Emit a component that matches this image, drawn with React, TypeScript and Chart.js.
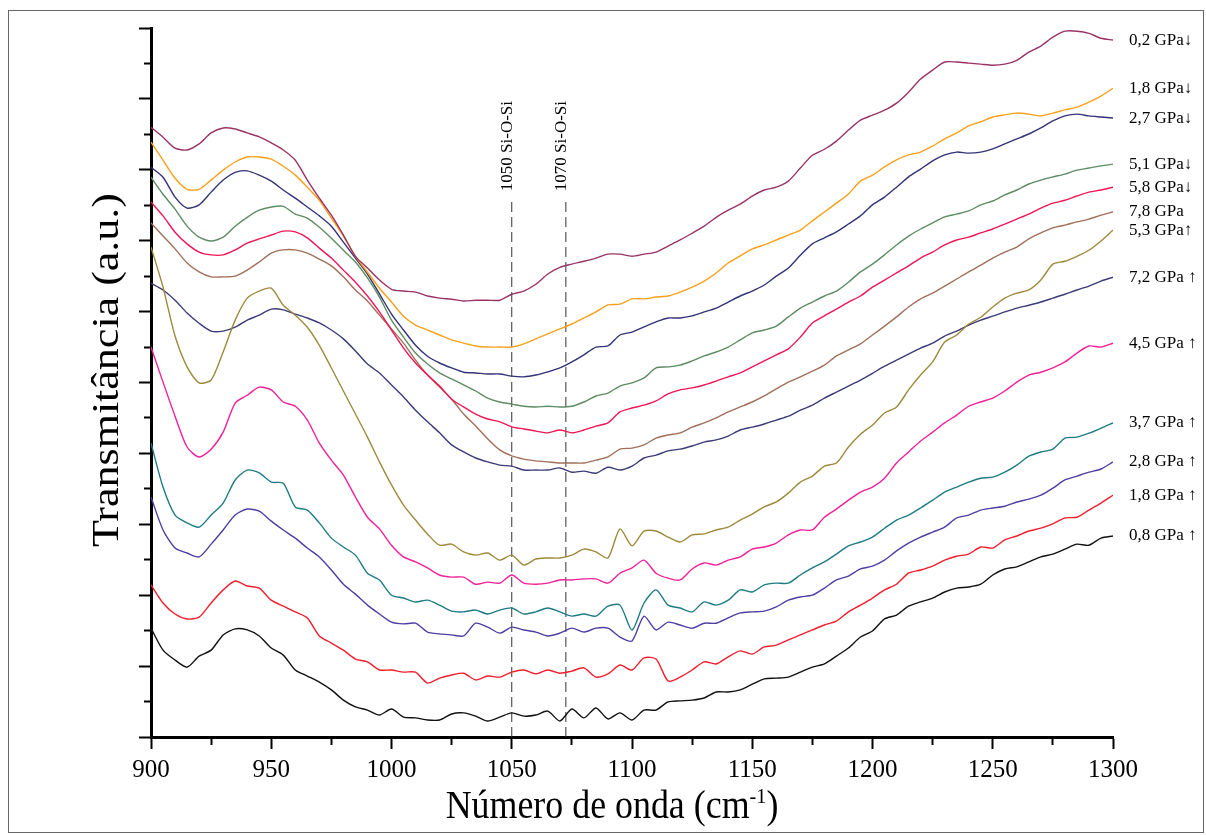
import React, { useEffect, useRef } from 'react';
import { Chart, registerables } from 'chart.js';

Chart.register(...registerables);

// Wavenumber grid (cm-1)
const wavenumbers = [
  900, 905, 910, 915, 920, 925, 930, 935, 940, 945,
  950, 955, 960, 965, 970, 975, 980, 985, 990, 995,
  1000, 1005, 1010, 1015, 1020, 1025, 1030, 1035, 1040, 1045,
  1050, 1055, 1060, 1065, 1070, 1075, 1080, 1085, 1090, 1095,
  1100, 1105, 1110, 1115, 1120, 1125, 1130, 1135, 1140, 1145,
  1150, 1155, 1160, 1165, 1170, 1175, 1180, 1185, 1190, 1195,
  1200, 1205, 1210, 1215, 1220, 1225, 1230, 1235, 1240, 1245,
  1250, 1255, 1260, 1265, 1270, 1275, 1280, 1285, 1290, 1295,
  1300,
];

// Transmittance (a.u., offset stacked)
const p02down = [
  17.20, 16.92, 16.61, 16.56, 16.73, 17.04, 17.18, 17.15, 17.04, 16.93,
  16.76, 16.56, 16.27, 15.71, 15.20, 14.72, 14.16, 13.56, 13.23, 12.89,
  12.63, 12.58, 12.55, 12.44, 12.38, 12.35, 12.30, 12.32, 12.32, 12.32,
  12.49, 12.58, 12.77, 13.06, 13.25, 13.34, 13.42, 13.51, 13.62, 13.62,
  13.56, 13.62, 13.68, 13.85, 14.02, 14.21, 14.41, 14.66, 14.86, 15.03,
  15.26, 15.43, 15.51, 15.68, 16.05, 16.41, 16.58, 16.81, 17.12, 17.40,
  17.54, 17.68, 17.88, 18.19, 18.56, 18.81, 19.04, 19.04, 19.01, 18.98,
  18.95, 18.98, 19.09, 19.32, 19.49, 19.74, 19.91, 19.91, 19.85, 19.71,
  19.66,
];
const p18down = [
  16.78, 16.27, 15.76, 15.45, 15.45, 15.71, 15.99, 16.22, 16.36, 16.36,
  16.30, 16.10, 15.85, 15.51, 15.14, 14.64, 14.13, 13.56, 13.11, 12.66,
  12.27, 11.87, 11.62, 11.48, 11.34, 11.20, 11.11, 11.03, 11.00, 11.00,
  11.00, 11.09, 11.23, 11.37, 11.51, 11.65, 11.82, 11.99, 12.19, 12.21,
  12.36, 12.36, 12.41, 12.44, 12.55, 12.69, 12.86, 13.09, 13.37, 13.57,
  13.77, 13.88, 14.02, 14.16, 14.30, 14.56, 14.81, 15.06, 15.32, 15.68,
  15.85, 16.08, 16.28, 16.42, 16.50, 16.67, 16.87, 17.04, 17.24, 17.35,
  17.49, 17.55, 17.60, 17.57, 17.52, 17.60, 17.69, 17.77, 17.91, 18.08,
  18.30,
];
const p27down = [
  16.07, 15.79, 15.23, 14.92, 15.01, 15.37, 15.71, 15.93, 15.97, 15.85,
  15.68, 15.43, 15.20, 14.95, 14.70, 14.41, 13.96, 13.51, 13.06, 12.50,
  11.93, 11.48, 11.05, 10.74, 10.55, 10.41, 10.29, 10.27, 10.24, 10.24,
  10.18, 10.16, 10.21, 10.30, 10.41, 10.58, 10.78, 11.00, 11.03, 11.34,
  11.42, 11.57, 11.71, 11.82, 11.82, 11.88, 11.99, 12.10, 12.27, 12.44,
  12.58, 12.75, 13.00, 13.23, 13.59, 13.91, 14.08, 14.25, 14.47, 14.70,
  15.01, 15.23, 15.51, 15.80, 16.02, 16.25, 16.42, 16.50, 16.47, 16.50,
  16.59, 16.73, 16.87, 17.01, 17.18, 17.38, 17.52, 17.57, 17.52, 17.49,
  17.46,
];
const p51down = [
  15.79, 15.31, 14.89, 14.41, 14.10, 13.99, 14.10, 14.41, 14.66, 14.86,
  14.95, 14.97, 14.75, 14.64, 14.38, 14.07, 13.73, 13.40, 12.95, 12.41,
  11.76, 11.28, 10.83, 10.52, 10.27, 10.10, 9.93, 9.76, 9.56, 9.45,
  9.39, 9.33, 9.31, 9.33, 9.31, 9.33, 9.45, 9.62, 9.70, 9.90,
  9.99, 10.13, 10.41, 10.44, 10.49, 10.61, 10.75, 10.86, 11.00, 11.20,
  11.40, 11.48, 11.59, 11.85, 12.10, 12.27, 12.44, 12.58, 12.83, 13.12,
  13.34, 13.60, 13.88, 14.13, 14.33, 14.50, 14.67, 14.75, 14.84, 15.01,
  15.12, 15.29, 15.43, 15.60, 15.71, 15.80, 15.88, 15.99, 16.05, 16.11,
  16.16,
];
const p58down = [
  15.09, 14.70, 14.24, 13.91, 13.68, 13.60, 13.60, 13.74, 13.93, 14.05,
  14.16, 14.27, 14.25, 14.08, 13.79, 13.51, 13.17, 12.83, 12.44, 11.99,
  11.48, 10.97, 10.55, 10.21, 9.90, 9.53, 9.31, 9.11, 8.97, 8.89,
  8.75, 8.69, 8.63, 8.58, 8.66, 8.58, 8.66, 8.77, 8.86, 9.17,
  9.28, 9.36, 9.48, 9.68, 9.79, 9.85, 9.93, 10.04, 10.16, 10.27,
  10.44, 10.61, 10.78, 10.95, 11.28, 11.68, 11.88, 12.07, 12.27, 12.44,
  12.69, 12.89, 13.09, 13.29, 13.51, 13.68, 13.88, 14.02, 14.10, 14.22,
  14.33, 14.47, 14.61, 14.75, 14.92, 15.06, 15.14, 15.26, 15.37, 15.43,
  15.51,
];
const p78 = [
  14.50, 14.13, 13.77, 13.37, 13.12, 12.98, 12.98, 13.00, 13.17, 13.40,
  13.65, 13.74, 13.74, 13.65, 13.48, 13.29, 12.98, 12.61, 12.30, 11.90,
  11.51, 11.11, 10.63, 10.21, 9.87, 9.53, 9.11, 8.77, 8.41, 8.10,
  7.93, 7.84, 7.79, 7.76, 7.73, 7.73, 7.73, 7.81, 7.90, 8.12,
  8.15, 8.24, 8.43, 8.52, 8.58, 8.74, 8.86, 9.00, 9.17, 9.31,
  9.45, 9.62, 9.82, 10.01, 10.16, 10.32, 10.49, 10.75, 10.92, 11.09,
  11.34, 11.59, 11.85, 12.13, 12.36, 12.52, 12.72, 12.92, 13.12, 13.31,
  13.51, 13.68, 13.82, 14.05, 14.22, 14.36, 14.44, 14.53, 14.61, 14.72,
  14.81,
];
const p53up = [
  13.82, 12.69, 11.31, 10.44, 9.99, 10.07, 10.86, 11.76, 12.38, 12.58,
  12.66, 12.18, 11.90, 11.56, 11.05, 10.41, 9.76, 9.11, 8.46, 7.76,
  7.11, 6.54, 6.12, 5.72, 5.41, 5.44, 5.22, 5.13, 5.19, 4.99,
  5.13, 4.85, 5.02, 5.05, 5.05, 5.13, 5.30, 5.22, 5.05, 5.87,
  5.39, 5.81, 5.81, 5.64, 5.50, 5.70, 5.73, 5.84, 5.92, 6.12,
  6.29, 6.49, 6.63, 6.88, 7.19, 7.36, 7.64, 7.73, 8.18, 8.54,
  8.80, 9.14, 9.31, 9.79, 10.21, 10.58, 11.14, 11.34, 11.65, 11.84,
  12.13, 12.38, 12.52, 12.61, 12.89, 13.34, 13.42, 13.56, 13.73, 13.99,
  14.30,
];
const p72up = [
  12.80, 12.61, 12.32, 11.96, 11.67, 11.45, 11.45, 11.56, 11.76, 11.90,
  12.07, 12.05, 11.93, 11.82, 11.68, 11.48, 11.23, 10.89, 10.52, 10.27,
  9.93, 9.59, 9.22, 8.89, 8.58, 8.24, 8.04, 7.87, 7.76, 7.67,
  7.64, 7.53, 7.53, 7.53, 7.59, 7.47, 7.50, 7.44, 7.61, 7.53,
  7.64, 7.87, 7.95, 8.07, 8.12, 8.21, 8.32, 8.38, 8.49, 8.66,
  8.74, 8.83, 8.94, 9.05, 9.22, 9.36, 9.56, 9.73, 9.90, 10.07,
  10.26, 10.46, 10.63, 10.80, 10.97, 11.11, 11.31, 11.45, 11.62, 11.76,
  11.87, 11.99, 12.10, 12.18, 12.27, 12.38, 12.49, 12.61, 12.72, 12.86,
  12.97,
];
const p45up = [
  11.00, 10.01, 9.05, 8.18, 7.90, 8.12, 8.60, 9.42, 9.64, 9.87,
  9.79, 9.45, 9.33, 8.94, 8.29, 7.81, 7.39, 6.77, 6.20, 5.87,
  5.41, 5.08, 4.94, 4.77, 4.57, 4.51, 4.51, 4.31, 4.37, 4.34,
  4.57, 4.34, 4.31, 4.34, 4.43, 4.43, 4.46, 4.46, 4.34, 4.62,
  4.77, 4.99, 4.62, 4.48, 4.43, 4.74, 4.91, 4.85, 4.99, 5.08,
  5.30, 5.36, 5.47, 5.70, 5.84, 5.84, 6.20, 6.43, 6.68, 6.91,
  7.05, 7.30, 7.73, 8.04, 8.35, 8.60, 8.86, 9.08, 9.33, 9.45,
  9.56, 9.76, 10.01, 10.21, 10.29, 10.41, 10.58, 10.83, 11.03, 11.00,
  11.11,
];
const p37up = [
  8.29, 7.05, 6.26, 6.04, 5.92, 6.26, 6.60, 7.25, 7.53, 7.45,
  7.19, 7.16, 6.49, 6.40, 6.04, 5.61, 5.36, 5.13, 4.62, 4.43,
  4.00, 3.92, 3.81, 3.86, 3.72, 3.55, 3.53, 3.58, 3.47, 3.58,
  3.64, 3.47, 3.53, 3.64, 3.53, 3.41, 3.47, 3.41, 3.69, 3.72,
  3.02, 3.78, 4.15, 3.72, 3.64, 3.53, 3.81, 3.72, 3.86, 4.15,
  4.09, 4.29, 4.34, 4.34, 4.57, 4.77, 4.94, 5.16, 5.39, 5.50,
  5.64, 5.89, 6.12, 6.26, 6.46, 6.68, 6.91, 7.05, 7.19, 7.30,
  7.33, 7.47, 7.67, 7.92, 8.04, 8.12, 8.43, 8.46, 8.57, 8.71,
  8.86,
];
const p28up = [
  6.77, 5.84, 5.33, 5.19, 5.08, 5.44, 5.84, 6.26, 6.43, 6.37,
  6.09, 5.84, 5.61, 5.33, 5.08, 4.71, 4.31, 4.03, 3.72, 3.47,
  3.24, 3.19, 3.21, 2.96, 2.91, 2.88, 2.85, 3.21, 3.10, 2.93,
  3.10, 3.02, 2.96, 2.85, 2.93, 3.07, 2.96, 3.07, 3.07, 2.82,
  2.71, 3.41, 3.02, 3.24, 3.16, 3.07, 3.21, 3.21, 3.36, 3.50,
  3.53, 3.55, 3.67, 3.86, 3.95, 4.00, 4.20, 4.43, 4.54, 4.74,
  4.82, 4.99, 5.25, 5.47, 5.64, 5.78, 5.92, 6.18, 6.26, 6.40,
  6.46, 6.51, 6.63, 6.71, 6.82, 7.02, 7.25, 7.36, 7.47, 7.56,
  7.76,
];
const p18up = [
  4.29, 3.78, 3.47, 3.33, 3.38, 3.78, 4.15, 4.40, 4.26, 4.20,
  3.86, 3.69, 3.53, 3.36, 2.85, 2.65, 2.45, 2.20, 2.12, 1.89,
  1.89, 1.83, 1.83, 1.52, 1.66, 1.75, 1.80, 1.61, 1.72, 1.69,
  1.83, 1.89, 1.78, 1.89, 1.80, 1.86, 1.95, 1.69, 1.78, 2.03,
  1.89, 2.23, 2.20, 1.58, 1.69, 1.89, 2.12, 2.06, 2.26, 2.43,
  2.34, 2.54, 2.59, 2.74, 2.88, 3.02, 3.16, 3.27, 3.53, 3.72,
  3.92, 4.15, 4.31, 4.62, 4.71, 4.82, 4.99, 5.10, 5.16, 5.36,
  5.33, 5.56, 5.67, 5.81, 5.89, 6.01, 6.18, 6.20, 6.40, 6.60,
  6.82,
];
const p08up = [
  3.07, 2.45, 2.17, 1.97, 2.28, 2.45, 2.88, 3.05, 3.02, 2.85,
  2.51, 2.31, 1.89, 1.72, 1.55, 1.33, 1.04, 0.85, 0.76, 0.62,
  0.79, 0.56, 0.54, 0.48, 0.48, 0.65, 0.68, 0.59, 0.45, 0.56,
  0.68, 0.59, 0.62, 0.73, 0.45, 0.79, 0.54, 0.82, 0.51, 0.68,
  0.48, 0.76, 0.76, 0.99, 1.02, 1.04, 1.10, 1.27, 1.27, 1.33,
  1.49, 1.64, 1.66, 1.69, 1.83, 1.97, 2.06, 2.28, 2.51, 2.82,
  2.99, 3.33, 3.44, 3.69, 3.81, 3.92, 4.09, 4.20, 4.23, 4.31,
  4.57, 4.74, 4.80, 4.94, 5.08, 5.16, 5.30, 5.44, 5.41, 5.61,
  5.67,
];

const seriesValues = [
  p02down, p18down, p27down, p51down, p58down, p78, p53up,
  p72up, p45up, p37up, p28up, p18up, p08up,
];
const seriesLabels = [
  '0,2 GPa↓', '1,8 GPa↓', '2,7 GPa↓', '5,1 GPa↓', '5,8 GPa↓', '7,8 GPa', '5,3 GPa↑',
  '7,2 GPa ↑', '4,5 GPa ↑', '3,7 GPa ↑', '2,8 GPa ↑', '1,8 GPa ↑', '0,8 GPa ↑',
];
const seriesColors = [
  '#993366', '#F9A01B', '#333377', '#5E8C64', '#EE1657', '#A0705A', '#9E8A3C',
  '#3B3B78', '#F0209A', '#1E7B83', '#4C3FA3', '#F01E2C', '#111111',
];

// Band markers
const bandPositions = [1050, 1072.5];
const bandLabels = ['1050 Si-O-Si', '1070 Si-O-Si'];
const bandTop = 15.2;

// Axis settings
const xMin = 900;
const xMax = 1300;
const xStep = 25;
const xLabelStep = 50;
const yMin = 0;
const yMax = 20;
const yStep = 1;

const SERIF = '"Liberation Serif", "Times New Roman", Times, serif';

const textPlugin = {
  id: 'figureTexts',
  afterDraw(chart: any) {
    const { ctx, chartArea, scales } = chart;
    const xs = scales.x;
    const ys = scales.y;
    ctx.save();
    ctx.fillStyle = '#000';

    // series labels at curve ends
    ctx.font = `17px ${SERIF}`;
    ctx.textAlign = 'left';
    ctx.textBaseline = 'middle';
    seriesLabels.forEach((lab, i) => {
      const vals = seriesValues[i];
      const py = ys.getPixelForValue(vals[vals.length - 1]);
      ctx.fillText(lab, chartArea.right + 16, py);
    });

    // band labels
    ctx.font = `17px ${SERIF}`;
    bandPositions.forEach((w, i) => {
      const px = xs.getPixelForValue(w);
      const py = ys.getPixelForValue(bandTop);
      ctx.save();
      ctx.translate(px, py - 7);
      ctx.rotate(-Math.PI / 2);
      ctx.textAlign = 'left';
      ctx.textBaseline = 'alphabetic';
      ctx.fillText(bandLabels[i], 0, 0);
      ctx.restore();
    });

    // y title
    ctx.save();
    ctx.translate(108, 370);
    ctx.rotate(-Math.PI / 2);
    ctx.scale(1, 0.85);
    ctx.font = `44px ${SERIF}`;
    ctx.textAlign = 'center';
    ctx.textBaseline = 'middle';
    ctx.fillText('Transmitância (a.u.)', 0, 0);
    ctx.restore();

    // x title with superscript
    ctx.save();
    ctx.translate(612, 818);
    ctx.scale(0.92, 1);
    const main = 'Número de onda (cm';
    const sup = '-1';
    const tail = ')';
    ctx.font = `39px ${SERIF}`;
    const w1 = ctx.measureText(main).width;
    const w3 = ctx.measureText(tail).width;
    ctx.font = `22px ${SERIF}`;
    const w2 = ctx.measureText(sup).width;
    const total = w1 + w2 + w3;
    const x0 = -total / 2;
    ctx.textAlign = 'left';
    ctx.textBaseline = 'alphabetic';
    ctx.font = `39px ${SERIF}`;
    ctx.fillText(main, x0, 0);
    ctx.font = `22px ${SERIF}`;
    ctx.fillText(sup, x0 + w1, -15);
    ctx.font = `39px ${SERIF}`;
    ctx.fillText(tail, x0 + w1 + w2, 0);
    ctx.restore();

    ctx.restore();
  },
};

export default function App() {
  const canvasRef = useRef<HTMLCanvasElement>(null);

  useEffect(() => {
    if (!canvasRef.current) return;
    const datasets: any[] = seriesValues.map((vals, i) => ({
      label: seriesLabels[i],
      data: vals.map((v, j) => ({ x: wavenumbers[j], y: v })),
      borderColor: seriesColors[i],
      backgroundColor: seriesColors[i],
      borderWidth: 1.4,
      pointRadius: 0,
      tension: 0.25,
      fill: false,
    }));
    bandPositions.forEach((w, i) => {
      datasets.push({
        label: bandLabels[i],
        data: [
          { x: w, y: yMin },
          { x: w, y: bandTop },
        ],
        borderColor: '#333',
        borderWidth: 1,
        borderDash: [10, 5],
        pointRadius: 0,
        fill: false,
      });
    });

    const chart = new Chart(canvasRef.current, {
      type: 'line',
      data: { datasets },
      options: {
        responsive: false,
        animation: false,
        devicePixelRatio: 1,
        layout: { padding: { left: 0, right: 93, top: 28, bottom: 0 } },
        plugins: {
          legend: { display: false },
          tooltip: { enabled: false },
          title: { display: false },
        },
        scales: {
          x: {
            type: 'linear',
            min: xMin,
            max: xMax,
            afterFit: (s: any) => {
              s.height = 98;
            },
            border: { display: true, color: '#000', width: 3 },
            grid: {
              display: true,
              drawOnChartArea: false,
              drawTicks: true,
              tickLength: 12,
              tickWidth: 2,
              tickColor: '#000',
              tickBorderDash: (c: any) =>
                c.tick && c.tick.value % xLabelStep === 0 ? [] : [6, 100],
            },
            ticks: {
              stepSize: xStep,
              autoSkip: false,
              maxRotation: 0,
              minRotation: 0,
              padding: 6,
              color: '#000',
              font: { family: SERIF, size: 25 },
              callback: (v: any) => (Number(v) % xLabelStep === 0 ? String(v) : ''),
            },
          },
          y: {
            type: 'linear',
            min: yMin,
            max: yMax,
            afterFit: (s: any) => {
              s.width = 151;
            },
            border: { display: true, color: '#000', width: 3 },
            grid: {
              display: true,
              drawOnChartArea: false,
              drawTicks: true,
              tickLength: 12,
              tickWidth: 2,
              tickColor: '#000',
              tickBorderDash: (c: any) =>
                c.tick && c.tick.value % 2 === 0 ? [] : [0, 5, 20, 0],
            },
            ticks: { stepSize: yStep, display: false },
          },
        },
      },
      plugins: [textPlugin],
    });
    return () => chart.destroy();
  }, []);

  return (
    <div
      style={{
        position: 'fixed',
        left: 0,
        top: 0,
        width: 1206,
        height: 835,
        background: '#fff',
      }}
    >
      <canvas ref={canvasRef} width={1206} height={835} />
      <div
        style={{
          position: 'absolute',
          left: 8,
          top: 10,
          width: 1196,
          height: 823,
          border: '1px solid #666',
          boxSizing: 'border-box',
          pointerEvents: 'none',
        }}
      />
    </div>
  );
}
